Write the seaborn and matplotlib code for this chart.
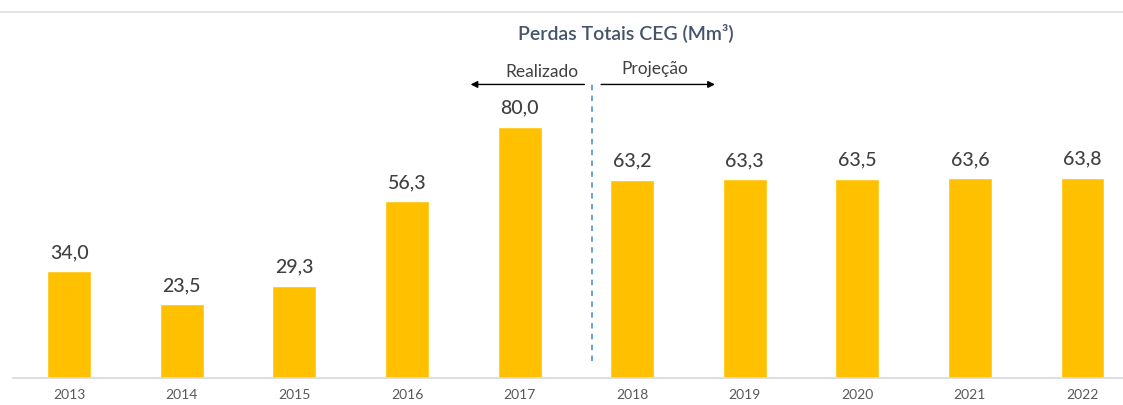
import matplotlib
matplotlib.use("Agg")
import matplotlib.pyplot as plt
import seaborn as sns
import pandas as pd
from matplotlib.lines import Line2D

# dados
anos = ["2013", "2014", "2015", "2016", "2017", "2018", "2019", "2020", "2021", "2022"]
perdas = [34.0, 23.5, 29.3, 56.3, 80.0, 63.2, 63.3, 63.5, 63.6, 63.8]
rotulos = ["34,0", "23,5", "29,3", "56,3", "80,0", "63,2", "63,3", "63,5", "63,6", "63,8"]

df = pd.DataFrame({"ano": anos, "perdas": perdas})

sns.set_theme(style="white")
plt.rcParams["font.family"] = ["Lato", "DejaVu Sans"]

fig = plt.figure(figsize=(11.23, 4.05), dpi=100)
ax = fig.add_axes([13 / 1123, 27 / 405, 1 - 13 / 1123, 378 / 405])

sns.barplot(data=df, x="ano", y="perdas", color="#FFC000", saturation=1,
            width=0.39, ax=ax)

ax.set_xlim(-0.5, 9.36)
ax.set_ylim(0, 120.4)

for i, (v, t) in enumerate(zip(perdas, rotulos)):
    ax.text(i, v + 3.3, t, ha="center", va="bottom", fontsize=14,
            fontweight="medium", color="#404040")

# título e anotações
ax.text(4.94, 110, "Perdas Totais CEG (Mm³)", ha="center", va="center",
        fontsize=14, fontweight="semibold", color="#44546A")
ax.text(4.2, 97.5, "Realizado", ha="center", va="center", fontsize=12.5, color="#404040")
ax.text(5.2, 98.5, "Projeção", ha="center", va="center", fontsize=12.5, color="#404040")
ax.annotate("", xy=(3.54, 93.5), xytext=(4.6, 93.5),
            arrowprops=dict(arrowstyle="-|>", color="black", lw=1, mutation_scale=10))
ax.annotate("", xy=(5.76, 93.5), xytext=(4.7, 93.5),
            arrowprops=dict(arrowstyle="-|>", color="black", lw=1, mutation_scale=10))
ax.plot([4.64, 4.64], [5.5, 95], ls=(0, (3, 3)), color="#5B9BD5", lw=1.3)

ax.set_xlabel("")
ax.set_ylabel("")
ax.set_yticks([])
ax.tick_params(axis="x", length=0, labelsize=10, labelcolor="#595959", pad=8)
for s in ["top", "right", "left"]:
    ax.spines[s].set_visible(False)
ax.spines["bottom"].set_color("#D9D9D9")
ax.spines["bottom"].set_linewidth(1.2)

# linha cinza no topo da figura
fig.add_artist(Line2D([0, 1], [1 - 12 / 405, 1 - 12 / 405], color="#DDDDDD", lw=1.2))

fig.savefig("out.png", dpi=100)
